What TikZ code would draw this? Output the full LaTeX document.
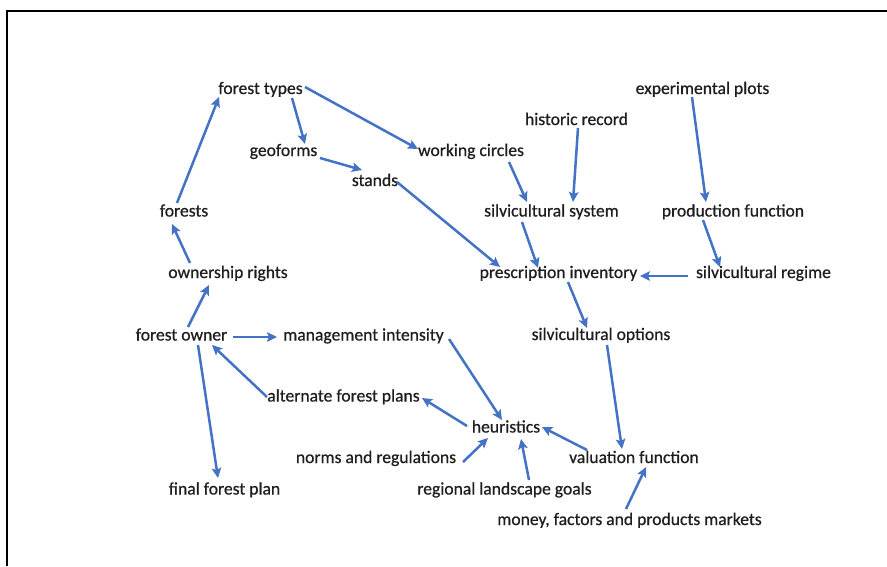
\documentclass[tikz,border=0pt]{standalone}
\usepackage{fontspec}
\setmainfont{Carlito}[BoldFont=Carlito, BoldFeatures={FakeBold=0.6}]
\usetikzlibrary{arrows.meta}
\definecolor{arrowblue}{RGB}{68,114,196}
\definecolor{labelgrey}{RGB}{30,30,30}
\tikzset{
  concept/.style={inner sep=0pt, anchor=base, text=labelgrey,
    font=\fontsize{17.6}{20}\selectfont\bfseries},
  link/.style={draw=arrowblue, line width=2.5pt,
    -{Stealth[length=10pt,width=9.5pt,inset=2pt]}},
  frame/.style={draw=black, line width=1.8pt}
}
\begin{document}
\begin{tikzpicture}[x=1pt,y=-1pt]
\useasboundingbox (0,0) rectangle (887,566);
\fill[white] (0,0) rectangle (887,566);
% open frame: top and left edges only
\draw[frame] (7,566) -- (7,11) -- (887,11);

% concepts (placed by baseline)
\node[concept] (ft)  at (260.5,94)  {forest types};
\node[concept] (geo) at (283.5,156) {geoforms};
\node[concept] (st)  at (375,186)   {stands};
\node[concept] (wc)  at (471,156)   {working circles};
\node[concept] (hr)  at (576.5,125) {historic record};
\node[concept] (ep)  at (702.5,94)  {experimental plots};
\node[concept] (fr)  at (184,216.5) {forests};
\node[concept] (ss)  at (551.5,216.5) {silvicultural system};
\node[concept] (pf)  at (733,216.5) {production function};
\node[concept] (or)  at (228,278)   {ownership rights};
\node[concept] (pi)  at (558.5,278) {prescription inventory};
\node[concept] (sr)  at (763.5,278) {silvicultural regime};
\node[concept] (fo)  at (181.5,340.5) {forest owner};
\node[concept] (mi)  at (363.5,340.5) {management intensity};
\node[concept] (so)  at (601,340)   {silvicultural options};
\node[concept] (afp) at (343.5,401.5) {alternate forest plans};
\node[concept] (he)  at (506,432.5) {heuristics};
\node[concept] (nr)  at (376,463)   {norms and regulations};
\node[concept] (vf)  at (634,463)   {valuation function};
\node[concept] (ffp) at (224.5,494.5) {final forest plan};
\node[concept] (rlg) at (504.5,494.5) {regional landscape goals};
\node[concept] (mk)  at (629.5,525) {money, factors and products markets};

% influences
\draw[link] ([shift={(-7,-13.5)}]fr.base)  -- ([shift={(-41.5,3)}]ft.base);
\draw[link] ([shift={(-38,-15)}]or.base)   -- ([shift={(-12,7.5)}]fr.base);
\draw[link] ([shift={(6.5,-13.5)}]fo.base) -- ([shift={(-19,7)}]or.base);
\draw[link] ([shift={(51.5,-3.5)}]fo.base) -- ([shift={(-86.5,-3.5)}]mi.base);
\draw[link] ([shift={(16.5,4.5)}]fo.base)  -- ([shift={(-6.5,-16.5)}]ffp.base);
\draw[link] ([shift={(-76.5,-4.5)}]afp.base) -- ([shift={(30.5,4.5)}]fo.base);
\draw[link] ([shift={(31.5,4)}]ft.base)    -- ([shift={(21.5,-12)}]geo.base);
\draw[link] ([shift={(44.5,-7)}]ft.base)   -- ([shift={(-53,-7)}]wc.base);
\draw[link] ([shift={(36.5,2)}]geo.base)   -- ([shift={(-13,-16)}]st.base);
\draw[link] ([shift={(22,-4)}]st.base)     -- ([shift={(-58.5,-11)}]pi.base);
\draw[link] ([shift={(38,6)}]wc.base)      -- ([shift={(-24.5,-14.5)}]ss.base);
\draw[link] ([shift={(1.5,3)}]hr.base)     -- ([shift={(21.5,-14.5)}]ss.base);
\draw[link] ([shift={(-10.5,3)}]ep.base)   -- ([shift={(-27,-14.5)}]pf.base);
\draw[link] ([shift={(-29.5,5.5)}]ss.base) -- ([shift={(-20.5,-10)}]pi.base);
\draw[link] ([shift={(-30,3.5)}]pf.base)   -- ([shift={(-43.5,-11)}]sr.base);
\draw[link] ([shift={(-75.5,-2)}]sr.base)  -- ([shift={(81.5,-2)}]pi.base);
\draw[link] ([shift={(9.5,4)}]pi.base)     -- ([shift={(-14,-12)}]so.base);
\draw[link] ([shift={(85.5,-1.5)}]mi.base) -- ([shift={(-4,-12.5)}]he.base);
\draw[link] ([shift={(-39,-6.5)}]he.base)  -- ([shift={(78.5,-3.5)}]afp.base);
\draw[link] ([shift={(87,-1)}]nr.base)     -- ([shift={(-18,5.5)}]he.base);
\draw[link] ([shift={(24.5,-14.5)}]rlg.base) -- ([shift={(15,6.5)}]he.base);
\draw[link] ([shift={(-47,-13)}]vf.base)   -- ([shift={(36,-5.5)}]he.base);
\draw[link] ([shift={(6,5)}]so.base)       -- ([shift={(-12,-14)}]vf.base);
\draw[link] ([shift={(-3.5,-16)}]mk.base)  -- ([shift={(12,4)}]vf.base);
\end{tikzpicture}
\end{document}
